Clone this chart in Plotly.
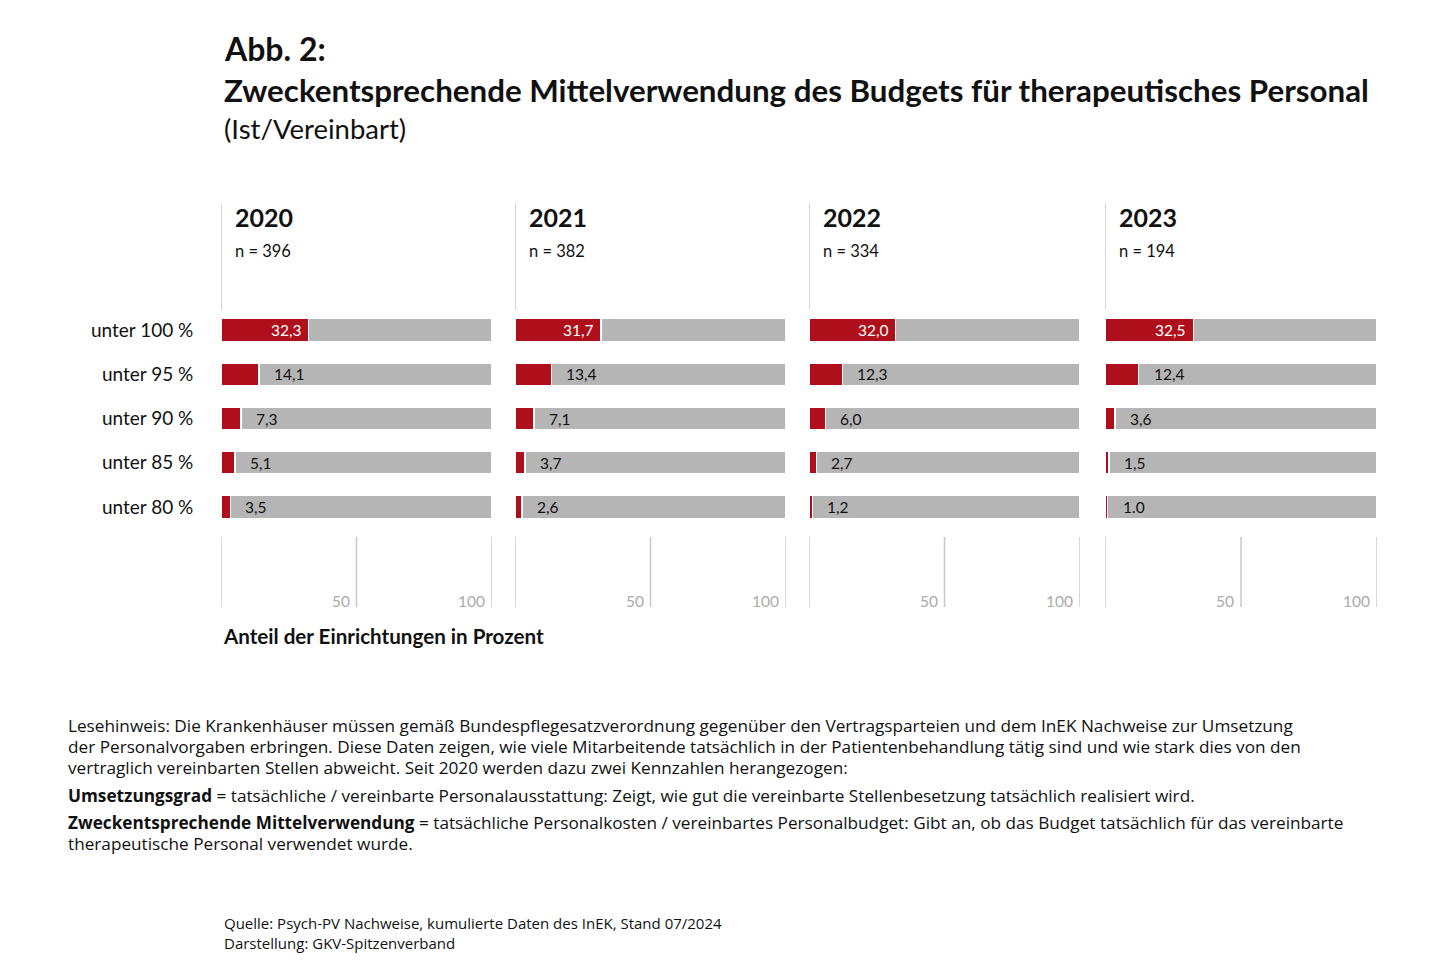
import plotly.graph_objects as go

# ---- data ----
categories = ["unter 100\u202f%", "unter 95\u202f%", "unter 90\u202f%", "unter 85\u202f%", "unter 80\u202f%"]
years = ["2020", "2021", "2022", "2023"]
n_counts = [396, 382, 334, 194]
values_2020 = [32.3, 14.1, 7.3, 5.1, 3.5]
values_2021 = [31.7, 13.4, 7.1, 3.7, 2.6]
values_2022 = [32.0, 12.3, 6.0, 2.7, 1.2]
values_2023 = [32.5, 12.4, 3.6, 1.5, 1.0]
labels_2020 = ["32,3", "14,1", "7,3", "5,1", "3,5"]
labels_2021 = ["31,7", "13,4", "7,1", "3,7", "2,6"]
labels_2022 = ["32,0", "12,3", "6,0", "2,7", "1,2"]
labels_2023 = ["32,5", "12,4", "3,6", "1,5", "1.0"]
grid_ticks = [50, 100]
total = 100

values = [values_2020, values_2021, values_2022, values_2023]
labels = [labels_2020, labels_2021, labels_2022, labels_2023]

# ---- style ----
W, H = 1440, 972
RED = "#AE0F1A"
GRAY = "#B5B5B5"
LINE = "#C8C8C8"
TXT = "#111111"
FONT = "Lato"
BODY = "Open Sans"

panel_px = [(221, 492), (515, 786), (809, 1080), (1105, 1377)]


def py(px):
    return 1 - px / H


fig = go.Figure()
axis_ids = ["x", "x2", "x3", "x4"]

for i, (vals, labs) in enumerate(zip(values, labels)):
    xa = axis_ids[i]
    fig.add_trace(go.Bar(
        x=vals, y=categories, orientation="h", xaxis=xa, yaxis="y",
        marker=dict(color=RED, line=dict(color="white", width=1.5)),
        hoverinfo="skip", showlegend=False,
    ))
    fig.add_trace(go.Bar(
        x=[total - v for v in vals], y=categories, orientation="h", xaxis=xa, yaxis="y",
        marker=dict(color=GRAY, line=dict(color="white", width=1.5)),
        hoverinfo="skip", showlegend=False,
    ))
    for j, (v, lab) in enumerate(zip(vals, labs)):
        if j == 0:
            fig.add_annotation(x=v, y=categories[j], xref=xa, yref="y", text=lab,
                               showarrow=False, xanchor="right", xshift=-5,
                               font=dict(family=FONT, size=15.5, color="white"))
        else:
            fig.add_annotation(x=v, y=categories[j], xref=xa, yref="y", text=lab,
                               showarrow=False, xanchor="left", xshift=13,
                               font=dict(family=FONT, size=15.5, color=TXT))
    # header line and texts
    fig.add_shape(type="line", xref=xa, yref="paper", x0=0, x1=0,
                  y0=py(310), y1=py(203), line=dict(color=LINE, width=1.5))
    fig.add_annotation(x=0, y=py(217), xref=xa, yref="paper", text="<b>" + years[i] + "</b>",
                       showarrow=False, xanchor="left", yanchor="middle", xshift=12,
                       font=dict(family=FONT, size=25, color=TXT))
    fig.add_annotation(x=0, y=py(251), xref=xa, yref="paper", text="n = %d" % n_counts[i],
                       showarrow=False, xanchor="left", yanchor="middle", xshift=12,
                       font=dict(family=FONT, size=16.5, color=TXT))
    # bottom grid lines with tick labels
    for t in [0] + grid_ticks:
        fig.add_shape(type="line", xref=xa, yref="paper", x0=t, x1=t,
                      y0=py(607), y1=py(537), line=dict(color=LINE, width=1.5))
    for t in grid_ticks:
        fig.add_annotation(x=t, y=py(601), xref=xa, yref="paper", text=str(t),
                           showarrow=False, xanchor="right", yanchor="middle", xshift=-5,
                           font=dict(family=FONT, size=15.5, color="#AAAAAA"))

layout_axes = {}
for i, (a, b) in enumerate(panel_px):
    name = "xaxis" if i == 0 else "xaxis%d" % (i + 1)
    layout_axes[name] = dict(domain=[a / W, b / W], range=[0, total], visible=False,
                             anchor="y", fixedrange=True)

fig.update_layout(
    **layout_axes,
    yaxis=dict(domain=[py(529.1), py(307.9)], autorange="reversed", anchor="x",
               showgrid=False, zeroline=False, showline=False, fixedrange=True,
               ticks="outside", ticklen=23, tickcolor="rgba(0,0,0,0)",
               tickfont=dict(family=FONT, size=19, color=TXT)),
    barmode="stack", bargap=0.48,
    width=W, height=H, autosize=False,
    margin=dict(l=0, r=0, t=0, b=0),
    paper_bgcolor="white", plot_bgcolor="white",
    font=dict(family=FONT, color=TXT),
)

# titles
fig.add_annotation(x=222 / W, y=py(48), xref="paper", yref="paper", text="<b>Abb. 2:</b>",
                   showarrow=False, xanchor="left", yanchor="middle",
                   font=dict(family=FONT, size=32, color=TXT))
fig.add_annotation(x=222 / W, y=py(90), xref="paper", yref="paper",
                   text="<b>Zweckentsprechende Mittelverwendung des Budgets für therapeutisches Personal</b>",
                   showarrow=False, xanchor="left", yanchor="middle",
                   font=dict(family=FONT, size=31.3, color=TXT))
fig.add_annotation(x=222 / W, y=py(128), xref="paper", yref="paper", text="(Ist/Vereinbart)",
                   showarrow=False, xanchor="left", yanchor="middle",
                   font=dict(family=FONT, size=27.5, color=TXT))
fig.add_annotation(x=221 / W, y=py(636), xref="paper", yref="paper",
                   text="<b>Anteil der Einrichtungen in Prozent</b>",
                   showarrow=False, xanchor="left", yanchor="middle",
                   font=dict(family=FONT, size=20.6, color=TXT))

note_lines = [
    (725, "Lesehinweis: Die Krankenhäuser müssen gemäß Bundespflegesatzverordnung gegenüber den Vertragsparteien und dem InEK Nachweise zur Umsetzung"),
    (746, "der Personalvorgaben erbringen. Diese Daten zeigen, wie viele Mitarbeitende tatsächlich in der Patientenbehandlung tätig sind und wie stark dies von den"),
    (767, "vertraglich vereinbarten Stellen abweicht. Seit 2020 werden dazu zwei Kennzahlen herangezogen:"),
    (795, "<b>Umsetzungsgrad</b> = tatsächliche / vereinbarte Personalausstattung: Zeigt, wie gut die vereinbarte Stellenbesetzung tatsächlich realisiert wird."),
    (822, "<b>Zweckentsprechende Mittelverwendung</b> = tatsächliche Personalkosten / vereinbartes Personalbudget: Gibt an, ob das Budget tatsächlich für das vereinbarte"),
    (843, "therapeutische Personal verwendet wurde."),
]
for ypx, t in note_lines:
    fig.add_annotation(x=66 / W, y=py(ypx), xref="paper", yref="paper", text=t,
                       showarrow=False, xanchor="left", yanchor="middle",
                       font=dict(family=BODY, size=17.2, color=TXT))

for ypx, t in [(923, "Quelle: Psych-PV Nachweise, kumulierte Daten des InEK, Stand 07/2024"),
               (943, "Darstellung: GKV-Spitzenverband")]:
    fig.add_annotation(x=222 / W, y=py(ypx), xref="paper", yref="paper", text=t,
                       showarrow=False, xanchor="left", yanchor="middle",
                       font=dict(family=BODY, size=15, color=TXT))

fig.write_html("out.html", config={"displayModeBar": False},
               post_script="document.body.style.margin='0px';")
